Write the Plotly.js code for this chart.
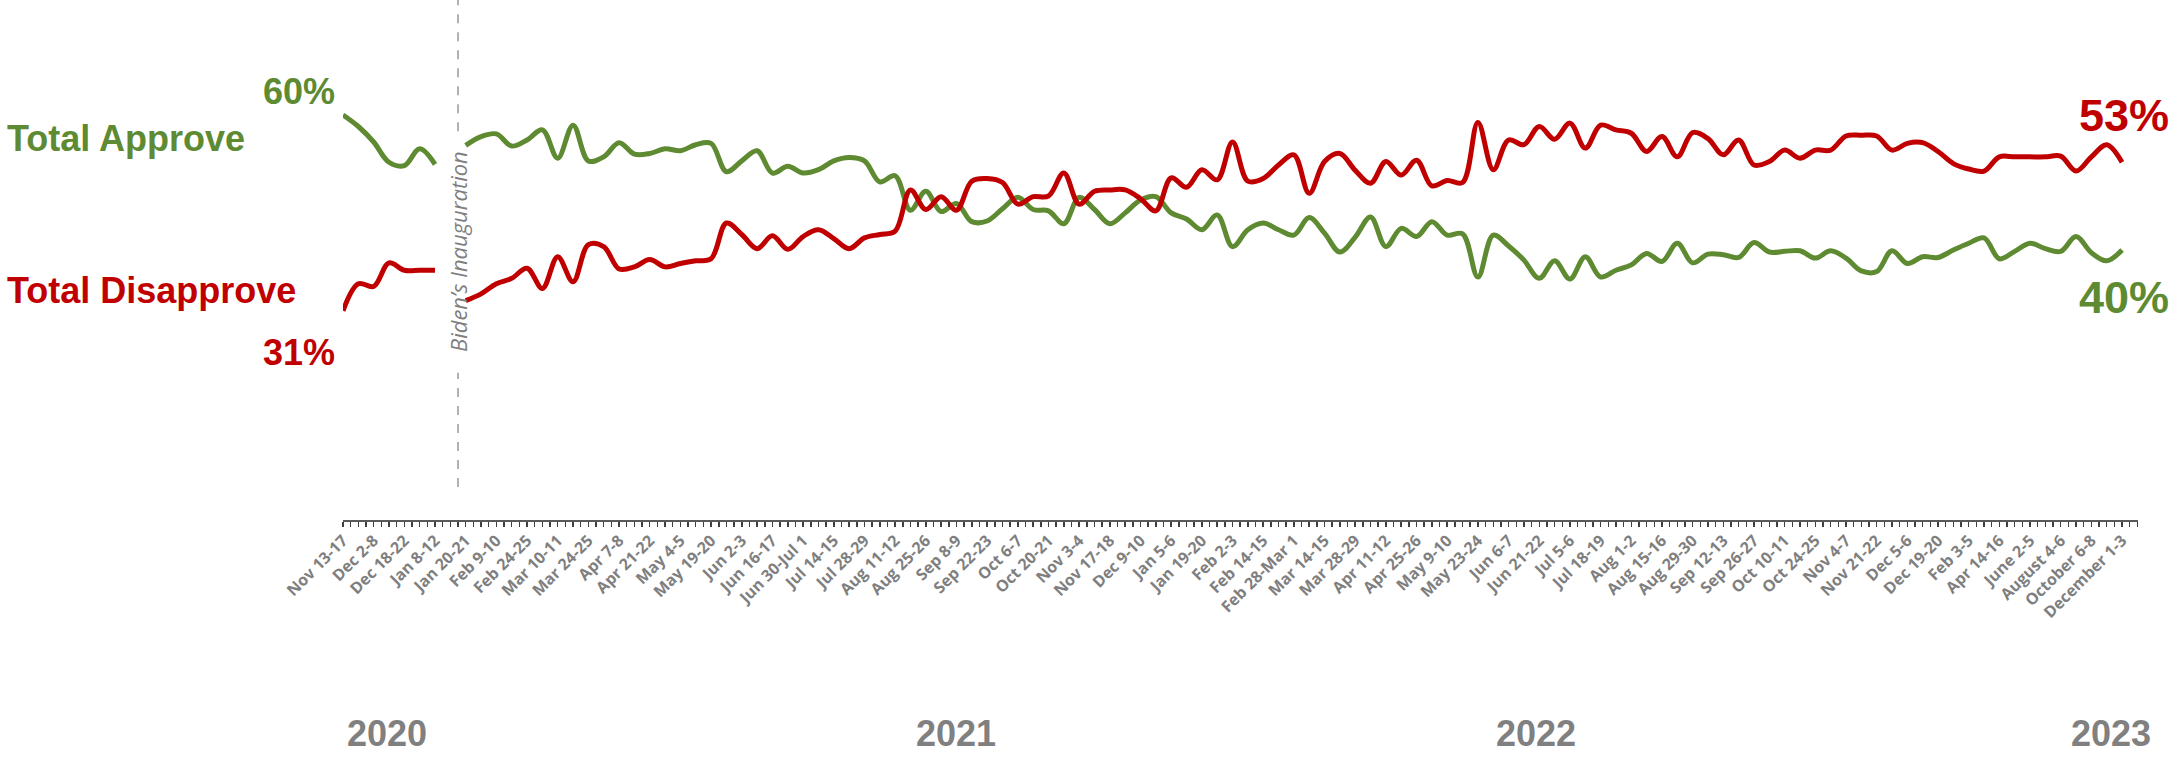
<!DOCTYPE html>
<html>
<head>
<meta charset="utf-8">
<script src="https://cdn.plot.ly/plotly-3.0.1.min.js"></script>
<style>html,body{margin:0;padding:0;background:#fff;}#chart{width:2169px;height:757px;}</style>
</head>
<body>
<div id="chart"></div>
<script>
// Tick labels (one every two polls)
const tickLabels = ["Nov 13-17","Dec 2-8","Dec 18-22","Jan 8-12","Jan 20-21","Feb 9-10","Feb 24-25","Mar 10-11","Mar 24-25","Apr 7-8","Apr 21-22","May 4-5","May 19-20","Jun 2-3","Jun 16-17","Jun 30-Jul 1","Jul 14-15","Jul 28-29","Aug 11-12","Aug 25-26","Sep 8-9","Sep 22-23","Oct 6-7","Oct 20-21","Nov 3-4","Nov 17-18","Dec 9-10","Jan 5-6","Jan 19-20","Feb 2-3","Feb 14-15","Feb 28-Mar 1","Mar 14-15","Mar 28-29","Apr 11-12","Apr 25-26","May 9-10","May 23-24","Jun 6-7","Jun 21-22","Jul 5-6","Jul 18-19","Aug 1-2","Aug 15-16","Aug 29-30","Sep 12-13","Sep 26-27","Oct 10-11","Oct 24-25","Nov 4-7","Nov 21-22","Dec 5-6","Dec 19-20","Feb 3-5","Apr 14-16","June 2-5","August 4-6","October 6-8","December 1-3"];

// Total Approve (%), one value per poll; null = break at the inauguration
const approve = [60,58.3,56,53,52.5,55,52.7,null,
55.5,56.8,57.2,55.4,56.3,57.8,53.6,58.5,53.2,53.8,55.9,54.2,54.3,55.0,54.7,55.6,55.8,51.6,53.2,54.7,51.4,52.4,51.4,51.9,53.2,53.7,53.2,50.1,51.0,45.9,48.7,45.7,
46.9,44.2,44.3,46.1,47.8,46.0,45.8,43.9,47.8,46.0,43.9,45.5,47.4,47.9,45.5,44.6,43.0,45.2,40.5,43.0,44.0,43.0,42.2,44.8,42.5,39.7,41.9,44.9,40.5,43.2,
42.0,44.2,42.2,42.4,36.0,42.2,40.6,38.5,35.8,38.4,35.7,39.0,36.0,37.0,37.8,39.5,38.3,41.0,38.1,39.4,39.3,38.9,41.1,39.7,39.8,39.9,38.8,39.9,38.8,36.9,
36.8,39.9,38.0,39.0,38.9,40.0,41.0,41.8,38.7,39.8,41.0,40.2,39.8,42.0,39.6,38.4,40];

// Total Disapprove (%)
const disapprove = [31,35.0,34.6,38.1,37,37,37,null,
32.5,33.5,35.0,35.8,37.3,34.3,39.0,35.3,40.8,40.5,37.2,37.5,38.6,37.5,38.0,38.4,38.7,44.0,42.3,40.2,42.1,40.1,42.0,43.0,41.7,40.2,41.8,42.3,42.8,48.9,46.0,47.9,
45.9,50.2,50.6,50.0,46.8,47.9,48.0,51.4,46.8,48.7,48.9,48.9,47.6,45.8,50.7,49.3,51.9,50.4,56.0,50.2,50.6,52.6,54.1,48.4,53.1,54.3,51.8,49.9,53.1,51.1,
53.3,49.5,50.3,50.0,58.9,51.9,56.3,55.6,58.3,56.4,58.8,55.1,58.5,57.8,57.3,54.6,56.8,53.8,57.4,56.5,54.1,56.3,52.6,53.1,54.8,53.6,54.8,54.8,56.9,57.0,
56.9,54.8,55.8,55.9,54.6,52.8,52.0,51.7,53.8,53.8,53.8,53.8,53.9,51.7,53.8,55.6,53];

const years = ["2020","2021","2022","2023"];
const inaugurationText = "Biden’s Inauguration";

const GREEN = "#5E8A32", RED = "#C00000", GRAY = "#7F7F7F";
const idx = approve.map((_, i) => i);
const tickvals = tickLabels.map((_, k) => 2 * k);
const inaugX = approve.indexOf(null) + 0.5;
const last = approve.length - 1;

const traces = [
  {x: idx, y: approve, type: "scatter", mode: "lines", connectgaps: false,
   line: {color: GREEN, width: 5, shape: "spline", smoothing: 1}, hoverinfo: "skip"},
  {x: idx, y: disapprove, type: "scatter", mode: "lines", connectgaps: false,
   line: {color: RED, width: 5, shape: "spline", smoothing: 1}, hoverinfo: "skip"}
];

const big = (c, s) => ({family: "Liberation Sans, Arial, sans-serif", size: s, color: c, weight: 700});

const yearX = [0.0245, 0.3415, 0.6646, 0.985];
const annotations = [
  {xref: "paper", yref: "paper", x: -0.1883, y: 0.7327, xanchor: "left", yanchor: "middle", text: "Total Approve", showarrow: false, font: big(GREEN, 36)},
  {xref: "paper", yref: "paper", x: -0.1883, y: 0.4404, xanchor: "left", yanchor: "middle", text: "Total Disapprove", showarrow: false, font: big(RED, 36)},
  {xref: "paper", yref: "paper", x: -0.0033, y: 0.825, xanchor: "right", yanchor: "middle", text: approve[0] + "%", showarrow: false, font: big(GREEN, 36)},
  {xref: "paper", yref: "paper", x: -0.0033, y: 0.323, xanchor: "right", yanchor: "middle", text: disapprove[0] + "%", showarrow: false, font: big(RED, 36)},
  {xref: "paper", yref: "paper", x: 0.966, y: 0.777, xanchor: "left", yanchor: "middle", text: disapprove[last] + "%", showarrow: false, font: big(RED, 45)},
  {xref: "paper", yref: "paper", x: 0.966, y: 0.427, xanchor: "left", yanchor: "middle", text: approve[last] + "%", showarrow: false, font: big(GREEN, 45)},
  {xref: "x", yref: "y", x: inaugX, y: 39.7, textangle: -90, text: inaugurationText, showarrow: false,
   font: {family: "Open Sans, sans-serif", size: 22, color: GRAY, style: "italic"}}
].concat(years.map((t, k) => ({xref: "paper", yref: "paper", x: yearX[k], y: -0.41, xanchor: "center", yanchor: "middle",
  text: t, showarrow: false, font: big("#808080", 36)})));

const dashLine = (y0, y1) => ({type: "line", xref: "x", yref: "y", x0: inaugX, x1: inaugX, y0: y0, y1: y1,
  line: {color: GRAY, width: 1.2, dash: "dash"}});

const layout = {
  width: 2169, height: 757,
  margin: {l: 343, r: 31, t: 0, b: 237},
  paper_bgcolor: "#fff", plot_bgcolor: "#fff",
  showlegend: false,
  xaxis: {
    range: [0, 117.04], showgrid: false, zeroline: false,
    showline: true, linecolor: "#595959", linewidth: 2,
    tickmode: "array", tickvals: tickvals, ticktext: tickLabels, tickangle: -45,
    ticks: "outside", ticklen: 5, tickcolor: "#404040", tickwidth: 1.5,
    ticklabelstandoff: -2,
    minor: {ticks: "outside", ticklen: 5, tickcolor: "#404040", tickwidth: 1.5, tickmode: "linear", tick0: 0, dtick: 0.5, showgrid: false},
    tickfont: {family: "Open Sans, sans-serif", size: 16, color: GRAY, weight: 700}
  },
  yaxis: {range: [0, 77.04], visible: false, showgrid: false, zeroline: false},
  annotations: annotations,
  shapes: [dashLine(57.6, 77.04), dashLine(4.9, 21.8)]
};

Plotly.newPlot("chart", traces, layout, {displayModeBar: false, staticPlot: true});
</script>
</body>
</html>
